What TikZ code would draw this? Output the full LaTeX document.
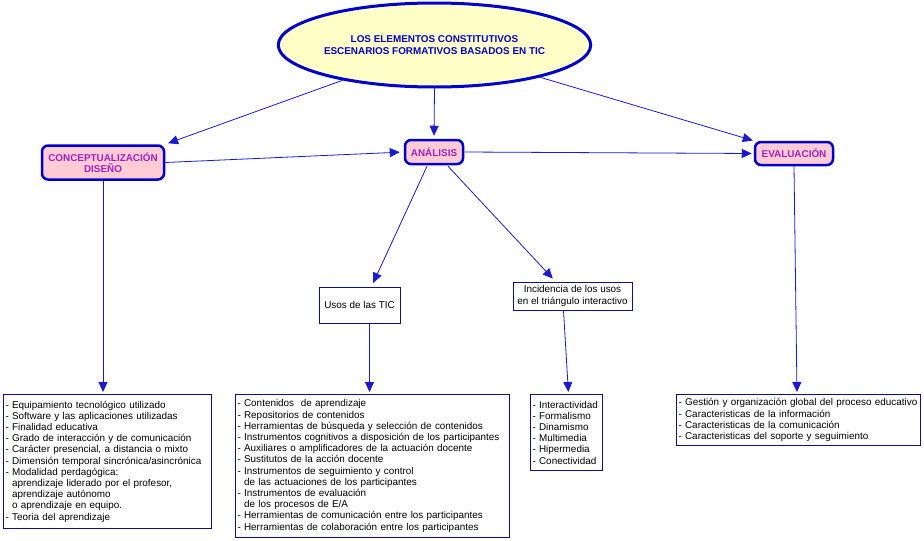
\documentclass[tikz,border=0pt]{standalone}
\usepackage{fontspec}
\setmainfont{Liberation Sans}
\usetikzlibrary{shapes.geometric,arrows.meta,calc}
\definecolor{lineblue}{HTML}{1A1AD0}
\definecolor{boxblue}{HTML}{0000CC}
\definecolor{navy}{HTML}{101080}
\definecolor{pinkfill}{HTML}{FFCCD6}
\definecolor{yellowfill}{HTML}{FFFFC8}
\definecolor{purpletext}{HTML}{A020C0}
\begin{document}
\begin{tikzpicture}[x=1pt,y=-1pt,
  conn/.style={draw=lineblue,line width=0.8pt,-{Triangle[length=10pt,width=9pt]},shorten >=2pt},
  mainbox/.style={draw=boxblue,line width=2.5pt,fill=pinkfill,rounded corners=6pt,
     text=purpletext,font=\fontsize{9.9}{11.5}\selectfont\bfseries,align=center,inner sep=0pt},
  midbox/.style={draw=navy,line width=1pt,fill=white,align=center,inner sep=0pt,
     font=\fontsize{9.9}{11.5}\selectfont},
  listbox/.style={draw=navy,line width=1pt,fill=white,align=left,anchor=north west,
     inner xsep=2pt,inner ysep=2.5pt,font=\fontsize{9.9}{11.2}\selectfont}
]
\useasboundingbox (0,0) rectangle (924,541);
\fill[white] (0,0) rectangle (924,541);

\node[ellipse,draw=boxblue,line width=3pt,fill=yellowfill,minimum width=253pt,minimum height=84pt,
  text=boxblue,font=\fontsize{9.9}{11.5}\selectfont\bfseries,align=center,inner sep=0pt]
  (ell) at (434.5,45) {LOS ELEMENTOS CONSTITUTIVOS\\ESCENARIOS FORMATIVOS BASADOS EN TIC};

\node[mainbox,minimum width=122pt,minimum height=34pt] (conc) at (103,162.5) {CONCEPTUALIZACIÓN\\DISEÑO};
\node[mainbox,minimum width=58pt,minimum height=24pt] (anal) at (434,152) {ANÁLISIS};
\node[mainbox,minimum width=78pt,minimum height=23pt] (eval) at (794,153.5) {EVALUACIÓN};

\node[midbox,minimum width=81pt,minimum height=36pt] (usos) at (359.5,305) {Usos de las TIC};
\node[midbox,minimum width=119pt,minimum height=28pt] (inc) at (572.5,296) {Incidencia de los usos\\en el triángulo interactivo};

\node[listbox,text width=204pt,minimum height=134pt] (left) at (3,394) {%
- Equipamiento tecnológico utilizado\\
- Software y las aplicaciones utilizadas\\
- Finalidad educativa\\
- Grado de interacción y de comunicación\\
- Carácter presencial, a distancia o mixto\\
- Dimensión temporal sincrónica/asincrónica\\
- Modalidad perdagógica:\\
\ \ aprendizaje liderado por el profesor,\\
\ \ aprendizaje autónomo\\
\ \ o aprendizaje en equipo.\\
- Teoria del aprendizaje};

\node[listbox,text width=270pt,minimum height=143pt] (mid) at (235,394) {%
- Contenidos\ \ de aprendizaje\\
- Repositorios de contenidos\\
- Herramientas de búsqueda y selección de contenidos\\
- Instrumentos cognitivos a disposición de los participantes\\
- Auxiliares o amplificadores de la actuación docente\\
- Sustitutos de la acción docente\\
- Instrumentos de seguimiento y control\\
\ \ de las actuaciones de los participantes\\
- Instrumentos de evaluación\\
\ \ de los procesos de E/A\\
- Herramientas de comunicación entre los participantes\\
- Herramientas de colaboración entre los participantes};

\node[listbox,text width=68pt,minimum height=76pt] (int) at (530,394) {%
- Interactividad\\
- Formalismo\\
- Dinamismo\\
- Multimedia\\
- Hipermedia\\
- Conectividad};

\node[listbox,text width=240pt,minimum height=51pt] (right) at (676,394) {%
- Gestión y organización global del proceso educativo\\
- Caracteristicas de la información\\
- Caracteristicas de la comunicación\\
- Caracteristicas del soporte y seguimiento};

% connectors
\draw[conn,shorten >=3pt] (ell.201) -- (conc.north east);
\draw[conn,shorten >=3pt] (ell.south) -- (anal.north);
\draw[conn,shorten >=1pt] (ell.343) -- (eval.north west);
\draw[conn,shorten >=4pt] (conc.east) -- (anal.west);
\draw[conn] (anal.east) -- (eval.west);
\draw[conn,shorten >=4pt] ($(anal.south)+(-7,1)$) -- ($(usos.north)+(12,0)$);
\draw[conn,shorten >=4pt] ($(anal.south)+(14,1)$) -- ($(inc.north)+(-17,0)$);
\draw[conn] (conc.south) -- (conc.south |- left.north);
\draw[conn] ($(usos.south)+(10,0)$) -- ($(usos.south |- mid.north)+(10,0)$);
\draw[conn] ($(inc.south)+(-9,0)$) -- ($(int.north)+(2,0)$);
\draw[conn] (eval.south) -- ($(eval.south |- right.north)+(3,0)$);
\end{tikzpicture}
\end{document}
